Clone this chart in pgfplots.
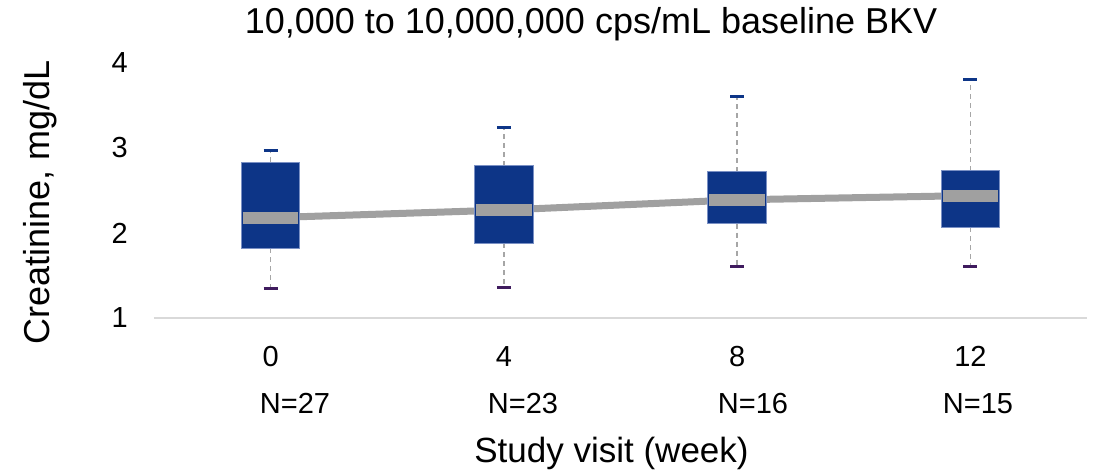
\documentclass[border=0pt]{standalone}
\usepackage{pgfplots}
\pgfplotsset{compat=1.18}
\usepgfplotslibrary{statistics}
\usepackage{fontspec}
\setmainfont{Liberation Sans}
\definecolor{boxnavy}{HTML}{0D3587}
\definecolor{boxedge}{HTML}{7A90C4}
\definecolor{medgray}{HTML}{A0A0A0}
\definecolor{whiskgray}{HTML}{A6A6A6}
\definecolor{capbot}{HTML}{3F1B5E}
\definecolor{axisgray}{HTML}{D9D9D9}
\begin{document}
\begin{tikzpicture}
\begin{axis}[
  scale only axis, width=933pt, height=255pt,
  xmin=-0.5, xmax=3.5, ymin=1, ymax=4,
  axis x line*=bottom, axis y line*=left,
  x axis line style={draw=axisgray, line width=2pt, -},
  y axis line style={draw=none, -},
  major tick style={draw=none},
  xtick={0,1,2,3}, xticklabels={0,4,8,12},
  ytick={1,2,3,4},
  tick label style={font=\fontsize{29}{34}\selectfont},
  xticklabel style={anchor=base, inner sep=0pt, yshift=-49pt},
  yticklabel style={anchor=east, inner sep=0pt, xshift=-26pt},
  /pgf/number format/assume math mode=true,
  clip=false,
  boxplot/draw direction=y,
  boxplot/box extend=0.25,
  boxplot/whisker extend=0.06,
  boxplot/every box/.style={fill=boxnavy, draw=boxedge, line width=1pt},
  boxplot/every median/.style={draw=medgray, line width=12pt, shorten <=1.5pt, shorten >=1.5pt},
  boxplot/draw/lower whisker/.code={%
    \draw[whiskgray, line width=1.5pt, dash pattern=on 5pt off 4pt]
      (boxplot cs:\pgfplotsboxplotvalue{lower quartile}) --
      (boxplot cs:\pgfplotsboxplotvalue{lower whisker});
    \draw[capbot, line width=3pt]
      (boxplot whisker cs:\pgfplotsboxplotvalue{lower whisker},0) --
      (boxplot whisker cs:\pgfplotsboxplotvalue{lower whisker},1);
  },
  boxplot/draw/upper whisker/.code={%
    \draw[whiskgray, line width=1.5pt, dash pattern=on 5pt off 4pt]
      (boxplot cs:\pgfplotsboxplotvalue{upper quartile}) --
      (boxplot cs:\pgfplotsboxplotvalue{upper whisker});
    \draw[boxnavy, line width=3pt]
      (boxplot whisker cs:\pgfplotsboxplotvalue{upper whisker},0) --
      (boxplot whisker cs:\pgfplotsboxplotvalue{upper whisker},1);
  },
]
% connecting line of medians
\addplot[medgray, line width=7pt] coordinates {(0,2.18) (1,2.27) (2,2.39) (3,2.44)};
% boxes
\addplot[boxplot prepared={draw position=0, lower whisker=1.35, lower quartile=1.82, median=2.18, upper quartile=2.83, upper whisker=2.97}] coordinates {};
\addplot[boxplot prepared={draw position=1, lower whisker=1.36, lower quartile=1.88, median=2.27, upper quartile=2.79, upper whisker=3.24}] coordinates {};
\addplot[boxplot prepared={draw position=2, lower whisker=1.61, lower quartile=2.11, median=2.39, upper quartile=2.72, upper whisker=3.60}] coordinates {};
\addplot[boxplot prepared={draw position=3, lower whisker=1.61, lower quartile=2.07, median=2.44, upper quartile=2.73, upper whisker=3.80}] coordinates {};
\end{axis}
\begin{scope}[every node/.style={anchor=base, inner sep=0pt}]
\node[font=\fontsize{36}{40}\selectfont] at (437pt,284pt) {10,000 to 10,000,000 cps/mL baseline BKV};
\node[rotate=90, font=\fontsize{36}{40}\selectfont] at (-104pt,116pt) {Creatinine, mg/dL};
\node[font=\fontsize{35}{40}\selectfont] at (457.5pt,-145pt) {Study visit (week)};
\node[font=\fontsize{29}{34}\selectfont] at (141pt,-96pt) {N=27};
\node[font=\fontsize{29}{34}\selectfont] at (369pt,-96pt) {N=23};
\node[font=\fontsize{29}{34}\selectfont] at (599pt,-96pt) {N=16};
\node[font=\fontsize{29}{34}\selectfont] at (824pt,-96pt) {N=15};
\end{scope}
\pgfresetboundingbox
\useasboundingbox (-154pt,-155pt) rectangle (943pt,318pt);
\end{tikzpicture}
\end{document}
